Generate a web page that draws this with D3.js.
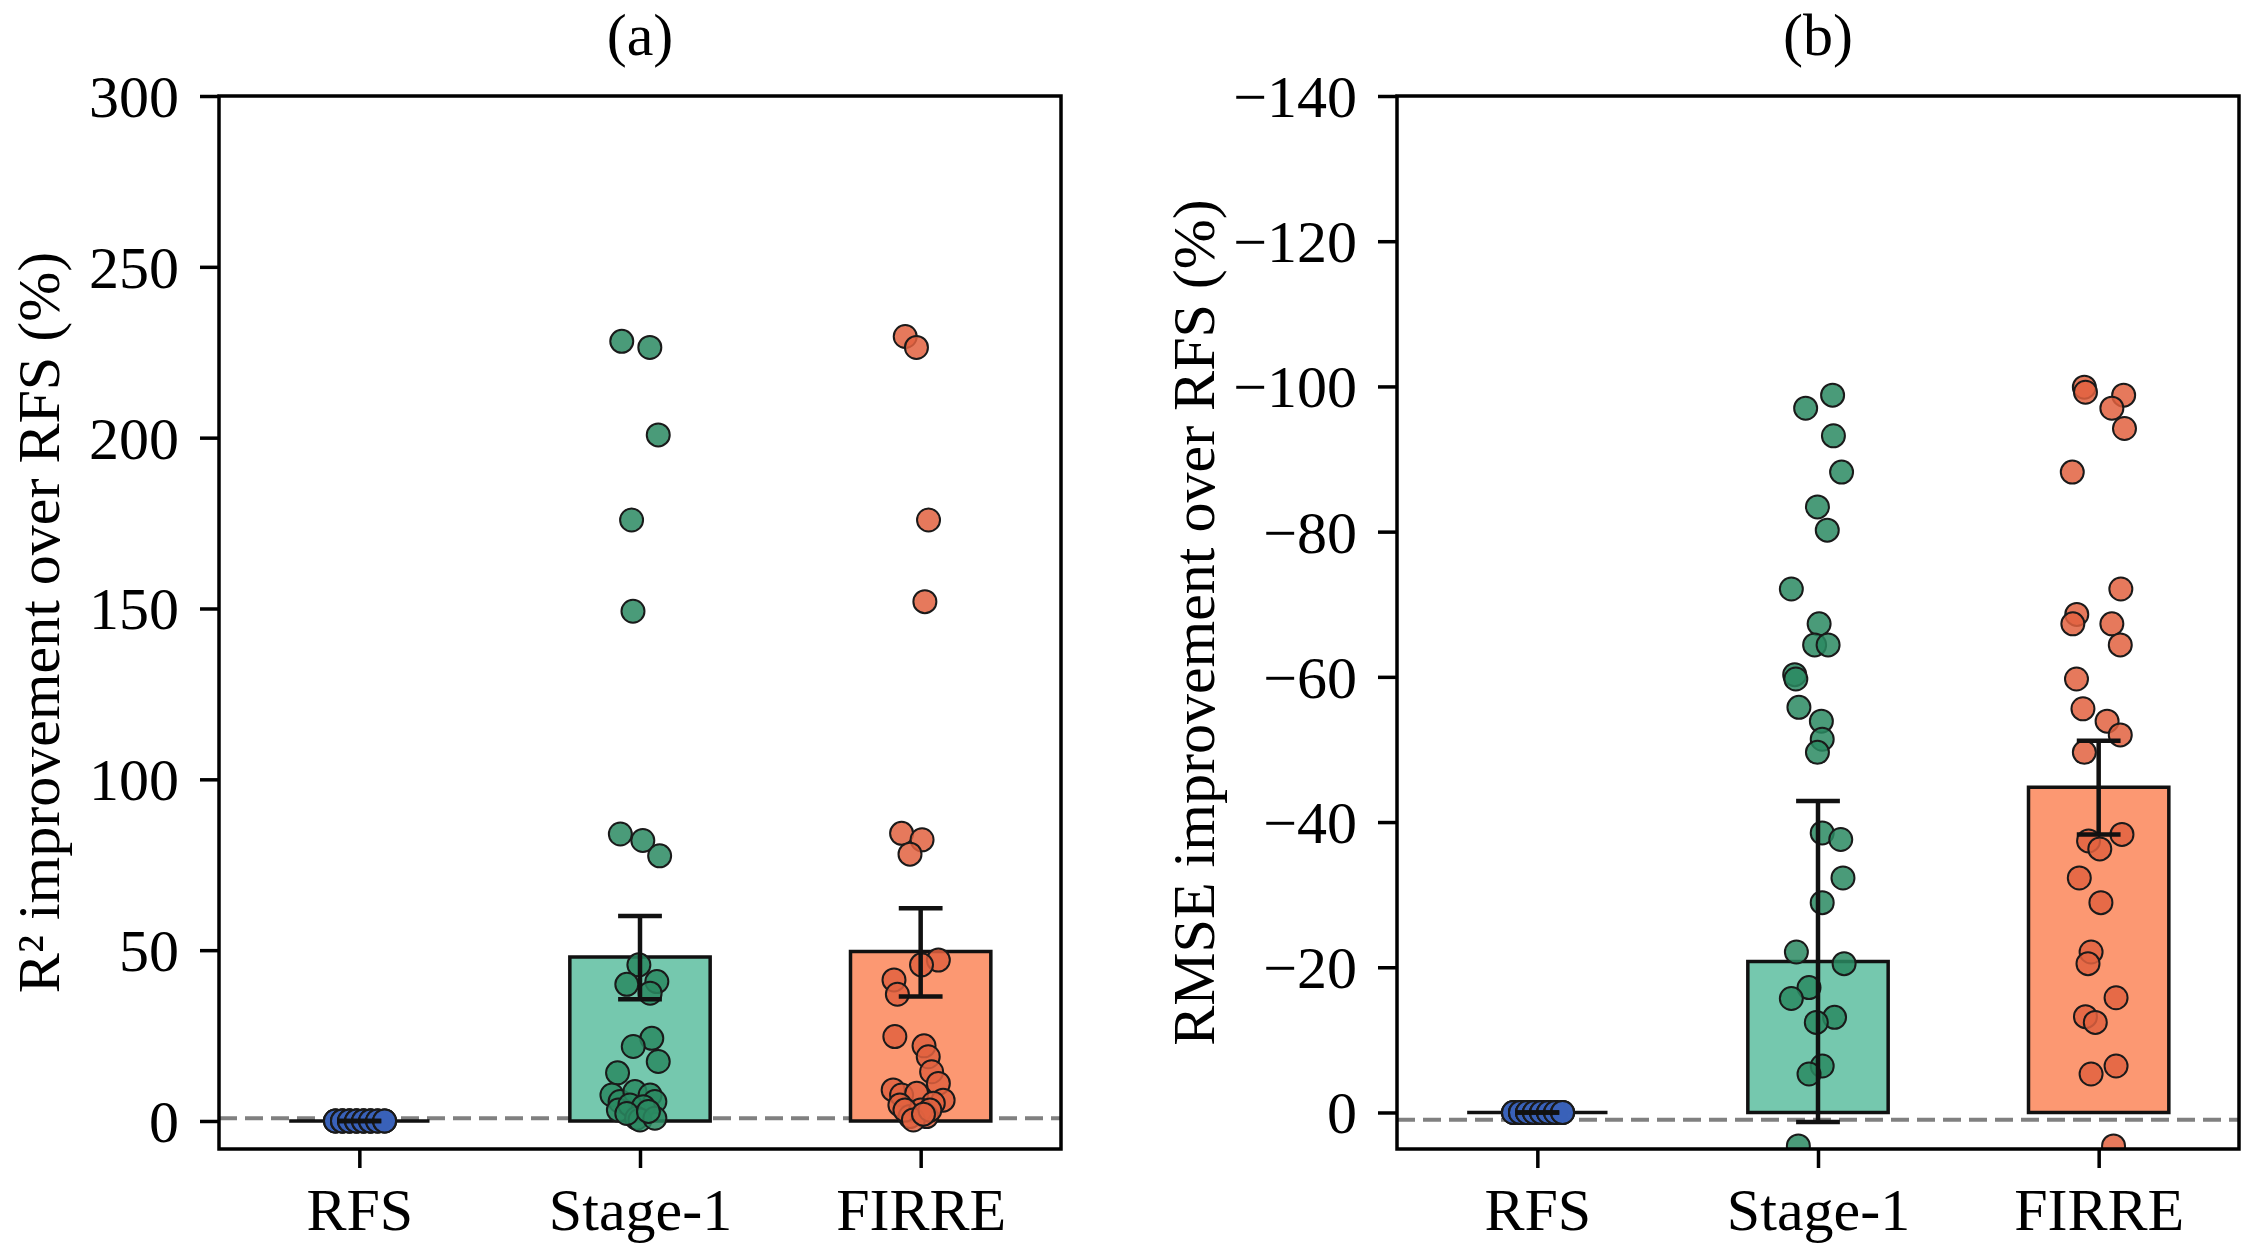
<!DOCTYPE html>
<html><head><meta charset="utf-8">
<script src="https://cdn.jsdelivr.net/npm/d3@7"></script>
<style>body{margin:0;background:#fff}</style>
</head><body><svg id="chart" width="2255" height="1259"></svg>
<script>
// ---------------- DATA ----------------
const categories = ["RFS", "Stage-1", "FIRRE"];

// Panel (a): R² improvement over RFS (%)
const r2Means = [0, 48.0, 49.6];
const r2CI = [[0, 0], [35.6, 60.0], [36.4, 62.3]];
const r2Ticks = [0, 50, 100, 150, 200, 250, 300];
// [value, jitter in category units]
const r2RFS = [[0,-0.085],[0,-0.085],[0,-0.085],[0,-0.06],[0,-0.06],[0,-0.06],[0,-0.06],[0,-0.035],[0,-0.035],[0,-0.035],[0,-0.035],[0,-0.01],[0,-0.01],[0,-0.01],[0,-0.01],[0,0.015],[0,0.015],[0,0.015],[0,0.015],[0,0.04],[0,0.04],[0,0.04],[0,0.04],[0,0.065],[0,0.065],[0,0.065],[0,0.09],[0,0.09],[0,0.09]];
const r2Stage1 = [[228.2,-0.065],[226.4,0.035],[200.8,0.065],[175.9,-0.03],[149.2,-0.025],[84.0,-0.07],[82.1,0.01],[77.6,0.07],
  [45.7,-0.004],[40.0,-0.047],[40.8,0.06],[37.4,0.036],[24.2,0.042],[21.8,-0.024],[17.4,0.065],[14.1,-0.08],
  [7.6,-0.1],[5.7,-0.071],[8.6,-0.018],[7.6,0.036],[5.7,0.053],[3.2,-0.077],[4.7,-0.036],[4.2,0.012],[0.8,-0.012],[0.3,0],[0.8,0.053],[2.2,-0.047],[2.8,0.03]];
const r2FIRRE = [[229.6,-0.055],[226.4,-0.015],[175.9,0.028],[152.0,0.015],[84.2,-0.068],[82.3,0.005],[78.1,-0.038],
  [47.1,0.063],[45.7,0.003],[41.3,-0.095],[37.1,-0.083],[24.7,-0.092],[22.0,0.012],[18.8,0.027],[14.4,0.039],[11.0,0.063],
  [9.1,-0.098],[7.6,-0.068],[8.1,-0.014],[6.1,0.08],[4.7,-0.074],[5.2,0.045],[1.3,-0.038],[1.3,0.021],[3.2,0],[3.2,-0.056],[0.3,-0.026],[3.2,0.033],[2.0,0.01]];

// Panel (b): RMSE improvement over RFS (%)
const rmseMeans = [0, -20.8, -44.8];
const rmseCI = [[0, 0], [-42.9, 1.3], [-51.2, -38.3]];
const rmseTicks = [0, -20, -40, -60, -80, -100, -120, -140];
const rmseRFS = [[0,-0.085],[0,-0.085],[0,-0.085],[0,-0.06],[0,-0.06],[0,-0.06],[0,-0.06],[0,-0.035],[0,-0.035],[0,-0.035],[0,-0.035],[0,-0.01],[0,-0.01],[0,-0.01],[0,-0.01],[0,0.015],[0,0.015],[0,0.015],[0,0.015],[0,0.04],[0,0.04],[0,0.04],[0,0.04],[0,0.065],[0,0.065],[0,0.065],[0,0.09],[0,0.09],[0,0.09]];
const rmseStage1 = [[-98.8,0.052],[-97.0,-0.044],[-93.2,0.055],[-88.2,0.084],[-83.4,-0.002],[-80.2,0.033],[-72.1,-0.095],[-67.3,0.004],[-64.4,-0.012],[-64.4,0.036],
  [-60.3,-0.083],[-59.7,-0.079],[-55.8,-0.068],[-53.9,0.012],[-51.4,0.015],[-49.6,-0.002],[-38.5,0.015],[-37.6,0.081],[-32.3,0.089],[-28.9,0.015],
  [-22.1,-0.077],[-20.5,0.093],[-17.2,-0.032],[-15.7,-0.095],[-13.1,0.059],[-12.4,-0.006],[-6.4,0.015],[-5.3,-0.032],[4.6,-0.07]];
const rmseFIRRE = [[-99.9,-0.051],[-99.2,-0.047],[-98.8,0.089],[-97.0,0.047],[-94.2,0.092],[-88.2,-0.094],[-72.1,0.079],[-68.6,-0.078],[-67.3,-0.092],[-67.3,0.047],
  [-64.4,0.077],[-59.7,-0.079],[-55.6,-0.056],[-53.9,0.03],[-52.0,0.077],[-49.6,-0.051],[-38.3,0.083],[-37.4,-0.036],[-36.3,0.004],[-32.3,-0.069],
  [-28.9,0.008],[-22.1,-0.027],[-20.5,-0.038],[-15.8,0.062],[-13.2,-0.047],[-12.4,-0.012],[-6.4,0.062],[-5.3,-0.027],[4.6,0.053]];

// ---------------- DRAW ----------------
const svg = d3.select("#chart");
svg.append("rect").attr("width", 2255).attr("height", 1259).attr("fill", "#fff");
const FONT = "'Liberation Serif','Times New Roman',serif";
const FS = 60;
const TOP = 96, BOTTOM = 1149;
const barColors = ["#8da0cb", "#75c8ae", "#fc9872"];
const ptColors = ["#3a62b8", "#2a8a62", "#e2613f"];
const fmtMinus = d => d < 0 ? "\u2212" + Math.abs(d) : String(d);

function panel(o) {
  const x = d3.scaleLinear().domain([-0.5, 2.5]).range([o.left, o.right]);
  const y = d3.scaleLinear().domain(o.yDomain).range([BOTTOM, TOP]);
  const g = svg.append("g");

  const clipId = "clip-" + o.id;
  svg.append("defs").append("clipPath").attr("id", clipId)
    .append("rect").attr("x", o.left).attr("y", TOP).attr("width", o.right - o.left).attr("height", BOTTOM - TOP);

  // reference dashed line
  g.append("line")
    .attr("x1", o.left).attr("x2", o.right)
    .attr("y1", y(o.refLine)).attr("y2", y(o.refLine))
    .attr("stroke", "#808080").attr("stroke-width", 4).attr("stroke-dasharray", "18,8");

  // bars
  g.selectAll("path.bar").data(o.means).join("path").attr("class", "bar")
    .attr("d", (d, i) => {
      const x0 = x(i - 0.25), x1 = x(i + 0.25), y0 = y(0), y1 = y(d);
      return `M${x0},${y0}H${x1}V${y1}H${x0}Z`;
    })
    .attr("fill", (d, i) => barColors[i])
    .attr("stroke", "#111").attr("stroke-width", 3.5);

  // points
  const pg = g.append("g").attr("clip-path", `url(#${clipId})`);
  o.points.forEach((arr, i) => {
    pg.selectAll(null).data(arr).join("circle")
      .attr("cx", d => x(i + d[1]))
      .attr("cy", d => y(d[0]))
      .attr("r", 11.5)
      .attr("fill", ptColors[i]).attr("fill-opacity", 0.85)
      .attr("stroke", "#1a1a1a").attr("stroke-width", 2);
  });

  // error bars
  const cap = 0.078;
  const eg = g.append("g").attr("stroke", "#111").attr("stroke-width", 4.5);
  o.ci.forEach((c, i) => {
    eg.append("line").attr("x1", x(i)).attr("x2", x(i)).attr("y1", y(c[0])).attr("y2", y(c[1]));
    c.forEach(v => {
      eg.append("line").attr("x1", x(i - cap)).attr("x2", x(i + cap)).attr("y1", y(v)).attr("y2", y(v));
    });
  });

  // y axis
  const ya = g.append("g").attr("transform", `translate(${o.left},0)`)
    .call(d3.axisLeft(y).tickValues(o.ticks).tickSize(19).tickPadding(21).tickFormat(fmtMinus));
  ya.select(".domain").remove();
  ya.selectAll(".tick line").attr("stroke", "#000").attr("stroke-width", 3.5);
  ya.selectAll(".tick text").attr("font-family", FONT).attr("font-size", FS).attr("fill", "#000").attr("dy", "0.34em");

  // x axis
  const xa = g.append("g").attr("transform", `translate(0,${BOTTOM})`)
    .call(d3.axisBottom(x).tickValues([0, 1, 2]).tickSize(19).tickPadding(19).tickFormat(i => categories[i]));
  xa.select(".domain").remove();
  xa.selectAll(".tick line").attr("stroke", "#000").attr("stroke-width", 3.5);
  xa.selectAll(".tick text").attr("font-family", FONT).attr("font-size", FS).attr("fill", "#000");

  // frame
  g.append("rect").attr("x", o.left).attr("y", TOP).attr("width", o.right - o.left).attr("height", BOTTOM - TOP)
    .attr("fill", "none").attr("stroke", "#000").attr("stroke-width", 3.5);

  // title
  g.append("text").attr("x", (o.left + o.right) / 2).attr("y", 55).attr("text-anchor", "middle")
    .attr("font-family", FONT).attr("font-size", FS).text(o.title);

  // y label
  g.append("text").attr("transform", `translate(${o.labelX},${(TOP + BOTTOM) / 2}) rotate(-90)`)
    .attr("text-anchor", "middle").attr("font-family", FONT).attr("font-size", FS).text(o.ylabel);
}

panel({
  id: "a", left: 219, right: 1061, yDomain: [-8.2, 300], ticks: r2Ticks,
  means: r2Means, ci: r2CI, points: [r2RFS, r2Stage1, r2FIRRE], refLine: 0.8,
  title: "(a)", ylabel: "R\u00B2 improvement over RFS (%)", labelX: 59
});
panel({
  id: "b", left: 1397, right: 2239, yDomain: [5.03, -140], ticks: rmseTicks,
  means: rmseMeans, ci: rmseCI, points: [rmseRFS, rmseStage1, rmseFIRRE], refLine: 1,
  title: "(b)", ylabel: "RMSE improvement over RFS (%)", labelX: 1214
});
</script>
</body></html>
